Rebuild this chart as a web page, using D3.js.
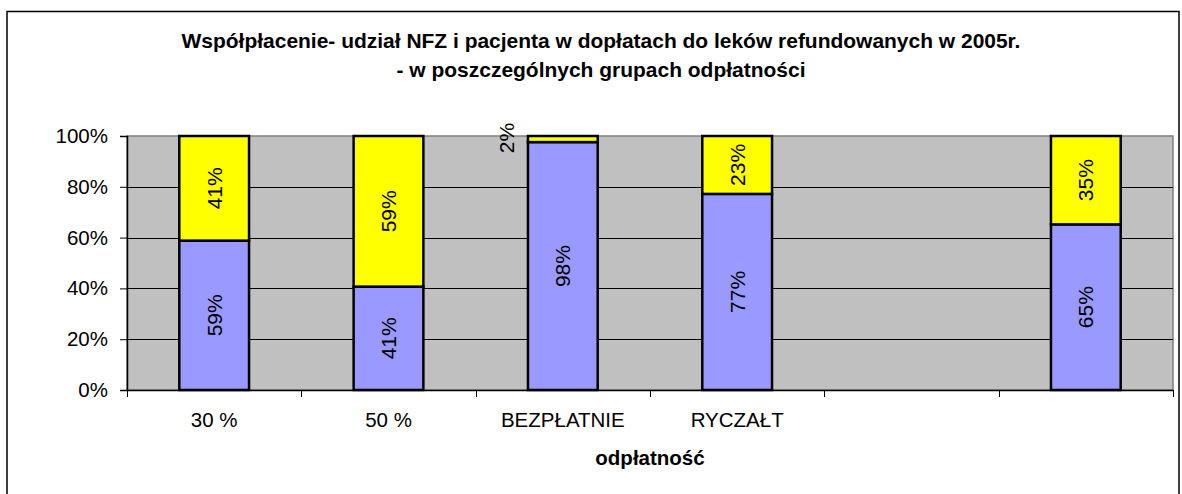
<!DOCTYPE html>
<html>
<head>
<meta charset="utf-8">
<script src="https://cdn.jsdelivr.net/npm/d3@7"></script>
<style>
  body { margin: 0; background: #fff; }
  svg text { font-family: "Liberation Sans", Arial, sans-serif; fill: #000; }
</style>
</head>
<body>
<div id="chart"></div>
<script>
(function () {

  // data (share of NFZ vs patient, in %)
  const categories = ["30 %", "50 %", "BEZPŁATNIE", "RYCZAŁT", "", ""];
  const nfzShare = [58.8, 40.7, 97.6, 77.2, null, 65.2];
  const patientShare = [41.2, 59.3, 2.4, 22.8, null, 34.8];
  const yTicks = [0, 20, 40, 60, 80, 100];
  const titleLines = [
    "Współpłacenie- udział NFZ i pacjenta w dopłatach do leków refundowanych w 2005r.",
    "- w poszczególnych grupach odpłatności"
  ];
  const xTitle = "odpłatność";

  // chart settings
  const svg_width = 1182, svg_height = 494;
  const plot = { left: 127, right: 1173, top: 136, bottom: 390 };
  const colors = { nfz: "#9999ff", patient: "#ffff00", plotBg: "#c0c0c0" };
  const labelSize = "20.5px";

  const svg = d3.select("#chart").append("svg")
    .attr("width", svg_width)
    .attr("height", svg_height);

  // outer chart frame
  svg.append("rect")
    .attr("x", 7).attr("y", 11.5)
    .attr("width", 1172).attr("height", 500)
    .attr("fill", "#fff")
    .attr("stroke", "#000")
    .attr("stroke-width", 1.5);

  // title, fitted to the width seen in the picture
  const title = svg.append("g");
  titleLines.forEach(function (t, i) {
    title.append("text")
      .attr("x", 601)
      .attr("y", 48 + i * 29)
      .attr("text-anchor", "middle")
      .style("font-weight", "bold")
      .style("font-size", "20px")
      .text(t);
  });
  const w0 = title.select("text").node().getComputedTextLength();
  const fs = 20 * 839 / w0;
  title.selectAll("text").style("font-size", fs + "px");

  // scales
  const x = d3.scaleBand()
    .domain(d3.range(categories.length))
    .range([plot.left, plot.right])
    .padding(0);
  const y = d3.scaleLinear()
    .domain([0, 100])
    .range([plot.bottom, plot.top]);

  // plot area
  svg.append("rect")
    .attr("x", plot.left).attr("y", plot.top)
    .attr("width", plot.right - plot.left)
    .attr("height", plot.bottom - plot.top)
    .attr("fill", colors.plotBg)
    .attr("stroke", "#808080")
    .attr("stroke-width", 1.5);

  // gridlines
  svg.append("g")
    .selectAll("line")
    .data(yTicks.filter(d => d > 0 && d < 100))
    .enter().append("line")
    .attr("x1", plot.left).attr("x2", plot.right)
    .attr("y1", d => Math.round(y(d)) + 0.5)
    .attr("y2", d => Math.round(y(d)) + 0.5)
    .attr("stroke", "#000")
    .attr("stroke-width", 1);

  // y axis
  const yAxis = svg.append("g")
    .attr("transform", "translate(" + plot.left + ",0)")
    .call(d3.axisLeft(y).tickValues(yTicks).tickSize(7).tickPadding(12)
      .tickFormat(d => d + "%"));
  yAxis.select(".domain").attr("stroke", "#000").attr("stroke-width", 1.5);
  yAxis.selectAll(".tick line").attr("stroke", "#000");
  yAxis.selectAll("text")
    .style("font-size", labelSize)
    .attr("font-family", null);

  // x axis: labels centred in the bands, ticks on the band edges
  const xAxis = svg.append("g")
    .attr("transform", "translate(0," + plot.bottom + ")")
    .call(d3.axisBottom(x).tickSize(0).tickPadding(0).tickFormat(i => categories[i]));
  xAxis.select(".domain").attr("stroke", "#000").attr("stroke-width", 1.5);
  xAxis.selectAll("text")
    .attr("dy", null)
    .attr("y", 37)
    .style("font-size", labelSize)
    .attr("font-family", null);
  const edges = d3.range(categories.length).map(i => x(i)).concat([x.range()[1]]);
  xAxis.selectAll(".edge")
    .data(edges)
    .enter().append("line")
    .attr("class", "edge")
    .attr("x1", d => Math.round(d) + 0.5).attr("x2", d => Math.round(d) + 0.5)
    .attr("y1", 0).attr("y2", 7)
    .attr("stroke", "#000");

  // stacked bars
  const series = [
    { key: "nfz", values: nfzShare, color: colors.nfz },
    { key: "patient", values: patientShare, color: colors.patient }
  ];
  const barW = x.bandwidth() * 0.4;
  const fmt = v => Math.round(v) + "%";

  const stacked = [];
  categories.forEach(function (c, i) {
    let base = 0;
    series.forEach(function (s) {
      const v = s.values[i];
      if (v == null) return;
      stacked.push({ i: i, v: v, y0: base, y1: base + v, color: s.color });
      base += v;
    });
  });

  const bars = svg.append("g");
  bars.selectAll("rect")
    .data(stacked)
    .enter().append("rect")
    .attr("x", d => x(d.i) + (x.bandwidth() - barW) / 2)
    .attr("y", d => y(d.y1))
    .attr("width", barW)
    .attr("height", d => y(d.y0) - y(d.y1))
    .attr("fill", d => d.color)
    .attr("stroke", "#000")
    .attr("stroke-width", 2.5);

  // value labels, rotated; a segment too thin gets its label beside the bar
  bars.selectAll("text")
    .data(stacked)
    .enter().append("text")
    .attr("transform", function (d) {
      const h = y(d.y0) - y(d.y1);
      let cx = x(d.i) + x.bandwidth() / 2;
      let cy = (y(d.y0) + y(d.y1)) / 2;
      if (h < 20) {
        cx = x(d.i) + (x.bandwidth() - barW) / 2 - 21;
        cy = y(d.y1) + 2;
      }
      return "translate(" + cx + "," + cy + ") rotate(-90)";
    })
    .attr("text-anchor", "middle")
    .attr("dy", "0.35em")
    .style("font-size", "21px")
    .text(d => fmt(d.v));

  // x axis title
  svg.append("text")
    .attr("x", (plot.left + plot.right) / 2)
    .attr("y", 465)
    .attr("text-anchor", "middle")
    .style("font-weight", "bold")
    .style("font-size", "20.5px")
    .text(xTitle);

})();
</script>
</body>
</html>
